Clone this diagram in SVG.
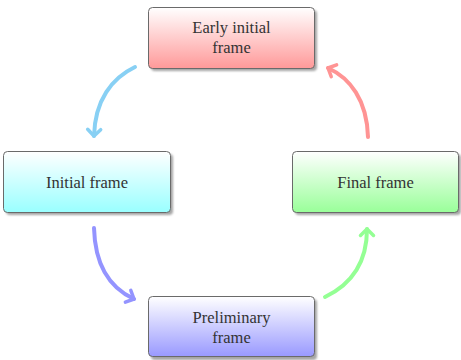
<svg xmlns="http://www.w3.org/2000/svg" width="461" height="360" viewBox="0 0 461 360">
<style>
.box{stroke:#6a6a6a;stroke-width:1}
.shadow{fill:#808080;opacity:0.7}
.lbl{font-family:"Liberation Serif","DejaVu Serif",serif;font-size:16.5px;fill:#333;text-anchor:middle}
.conn{fill:none;stroke-width:4;stroke-linecap:round}
</style>
<defs>
<linearGradient id="gR" x1="0" y1="0" x2="0" y2="1"><stop offset="0" stop-color="#fff"/><stop offset="1" stop-color="#ff9999"/></linearGradient>
<linearGradient id="gC" x1="0" y1="0" x2="0" y2="1"><stop offset="0" stop-color="#fff"/><stop offset="1" stop-color="#99ffff"/></linearGradient>
<linearGradient id="gG" x1="0" y1="0" x2="0" y2="1"><stop offset="0" stop-color="#fff"/><stop offset="1" stop-color="#99ff99"/></linearGradient>
<linearGradient id="gB" x1="0" y1="0" x2="0" y2="1"><stop offset="0" stop-color="#fff"/><stop offset="1" stop-color="#9999ff"/></linearGradient>
<filter id="blur" x="-10%" y="-10%" width="120%" height="120%"><feGaussianBlur stdDeviation="1"/></filter>
<marker id="mC" markerUnits="userSpaceOnUse" markerWidth="20" markerHeight="20" viewBox="-10 -10 20 20" refX="0" refY="0" orient="auto"><path d="M-6.5,-6.5 L0,0 L-6.5,6.5" fill="none" stroke="#88d0f4" stroke-width="3.5" stroke-linecap="round" stroke-linejoin="round"/></marker>
<marker id="mR" markerUnits="userSpaceOnUse" markerWidth="20" markerHeight="20" viewBox="-10 -10 20 20" refX="0" refY="0" orient="auto"><path d="M-6.5,-6.5 L0,0 L-6.5,6.5" fill="none" stroke="#ff9494" stroke-width="3.5" stroke-linecap="round" stroke-linejoin="round"/></marker>
<marker id="mB" markerUnits="userSpaceOnUse" markerWidth="20" markerHeight="20" viewBox="-10 -10 20 20" refX="0" refY="0" orient="auto"><path d="M-6.5,-6.5 L0,0 L-6.5,6.5" fill="none" stroke="#9494ff" stroke-width="3.5" stroke-linecap="round" stroke-linejoin="round"/></marker>
<marker id="mG" markerUnits="userSpaceOnUse" markerWidth="20" markerHeight="20" viewBox="-10 -10 20 20" refX="0" refY="0" orient="auto"><path d="M-6.5,-6.5 L0,0 L-6.5,6.5" fill="none" stroke="#94ff94" stroke-width="3.5" stroke-linecap="round" stroke-linejoin="round"/></marker>
</defs>
<rect width="461" height="360" fill="#fff"/>
<g id="early">
<rect class="shadow" x="151" y="10" width="166" height="61" rx="4" filter="url(#blur)"/>
<rect class="box" x="148.5" y="7.5" width="166" height="61" rx="4" fill="url(#gR)"/>
<text class="lbl" x="231.5" y="33">Early initial</text>
<text class="lbl" x="231.5" y="53">frame</text>
</g>
<g id="initial">
<rect class="shadow" x="6" y="154" width="167" height="61" rx="4" filter="url(#blur)"/>
<rect class="box" x="3.5" y="151.5" width="167" height="61" rx="4" fill="url(#gC)"/>
<text class="lbl" x="87" y="188">Initial frame</text>
</g>
<g id="final">
<rect class="shadow" x="295" y="154" width="166" height="61" rx="4" filter="url(#blur)"/>
<rect class="box" x="292.5" y="151.5" width="166" height="61" rx="4" fill="url(#gG)"/>
<text class="lbl" x="375.5" y="188">Final frame</text>
</g>
<g id="preliminary">
<rect class="shadow" x="151" y="299" width="166" height="61" rx="4" filter="url(#blur)"/>
<rect class="box" x="148.5" y="296.5" width="166" height="60" rx="4" fill="url(#gB)"/>
<text class="lbl" x="231.5" y="323">Preliminary</text>
<text class="lbl" x="231.5" y="343">frame</text>
</g>
<g id="connectors">
<path class="conn" stroke="#88d0f4" d="M135,67 C112,78 95,100 94,136" marker-end="url(#mC)"/>
<path class="conn" stroke="#ff9494" d="M368,137 C367,100 350,78 328,68" marker-end="url(#mR)"/>
<path class="conn" stroke="#9494ff" d="M94,228 C95,265 110,288 134,299" marker-end="url(#mB)"/>
<path class="conn" stroke="#94ff94" d="M325,297 C350,285 367,265 367,229" marker-end="url(#mG)"/>
</g>
</svg>
